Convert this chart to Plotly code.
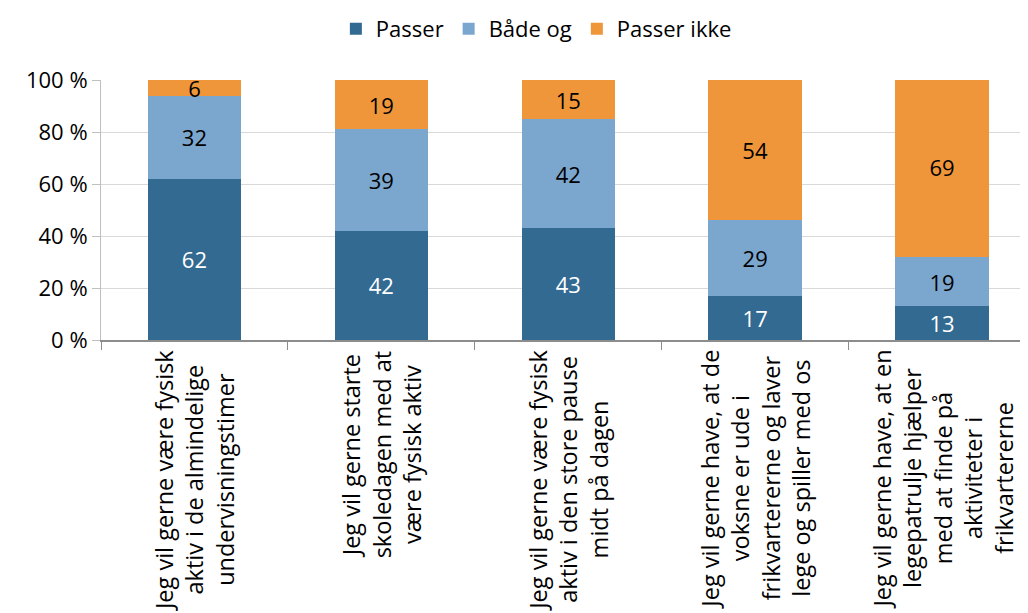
import plotly.graph_objects as go

categories = [
    "Jeg vil gerne være fysisk<br>aktiv i de almindelige<br>undervisningstimer",
    "Jeg vil gerne starte<br>skoledagen med at<br>være fysisk aktiv",
    "Jeg vil gerne være fysisk<br>aktiv i den store pause<br>midt på dagen",
    "Jeg vil gerne have, at de<br>voksne er ude i<br>frikvartererne og laver<br>lege og spiller med os",
    "Jeg vil gerne have, at en<br>legepatrulje hjælper<br>med at finde på<br>aktiviteter i<br>frikvartererne",
]
cat_ids = ["c1", "c2", "c3", "c4", "c5"]
series_names = ["Passer", "Både og", "Passer ikke"]
passer = [62, 42, 43, 17, 13]
baade_og = [32, 39, 42, 29, 19]
passer_ikke = [6, 19, 15, 54, 69]
y_ticks = [0, 20, 40, 60, 80, 100]
y_tick_labels = ["0 %", "20 %", "40 %", "60 %", "80 %", "100 %"]

colors = ["#336A92", "#7BA7CF", "#F0963A"]
text_colors = ["white", "black", "black"]
FONT = "Open Sans"

fig = go.Figure()
for name, vals, col, tc in zip(series_names, [passer, baade_og, passer_ikke], colors, text_colors):
    fig.add_trace(go.Bar(
        name=name, x=cat_ids, y=vals, marker=dict(color=col, line=dict(width=0)),
        text=[str(v) for v in vals], textposition="inside", insidetextanchor="middle",
        textangle=0, constraintext="none",
        textfont=dict(color=tc, size=22, family=FONT), hoverinfo="skip",
    ))

for cid, lab in zip(cat_ids, categories):
    fig.add_annotation(
        x=cid, xref="x", y=0, yref="paper", yanchor="top", xanchor="center",
        yshift=-8, text=lab, textangle=-90, showarrow=False, align="center",
        font=dict(family=FONT, size=23.5, color="black"),
    )

fig.update_layout(
    barmode="stack", bargap=0.5,
    width=1020, height=605,
    margin=dict(l=93, r=0, t=72, b=273, autoexpand=False),
    paper_bgcolor="white", plot_bgcolor="white",
    font=dict(family=FONT, size=22, color="black"),
    uniformtext=dict(minsize=22, mode="show"),
    legend=dict(orientation="h", x=0.518, xref="container", xanchor="center",
                y=1, yref="container", yanchor="top",
                font=dict(size=22, family=FONT), traceorder="normal",
                itemwidth=30),
    showlegend=True,
)
fig.update_xaxes(
    type="category", range=[-0.5, 4.46], showticklabels=False, automargin=False,
    tickson="boundaries", ticks="outside", ticklen=8, tickcolor="#8C8C8C",
    showline=True, linecolor="#8C8C8C", linewidth=2, showgrid=False,
)
fig.update_yaxes(
    range=[0, 100], tickvals=y_ticks, ticktext=y_tick_labels, automargin=False,
    ticks="outside", ticklen=8, tickcolor="#BFBFBF",
    showline=True, linecolor="#BFBFBF", linewidth=1,
    showgrid=True, gridcolor="#D9D9D9", gridwidth=1,
    tickfont=dict(size=22, family=FONT), zeroline=False,
)

fig.write_html("out.html")
